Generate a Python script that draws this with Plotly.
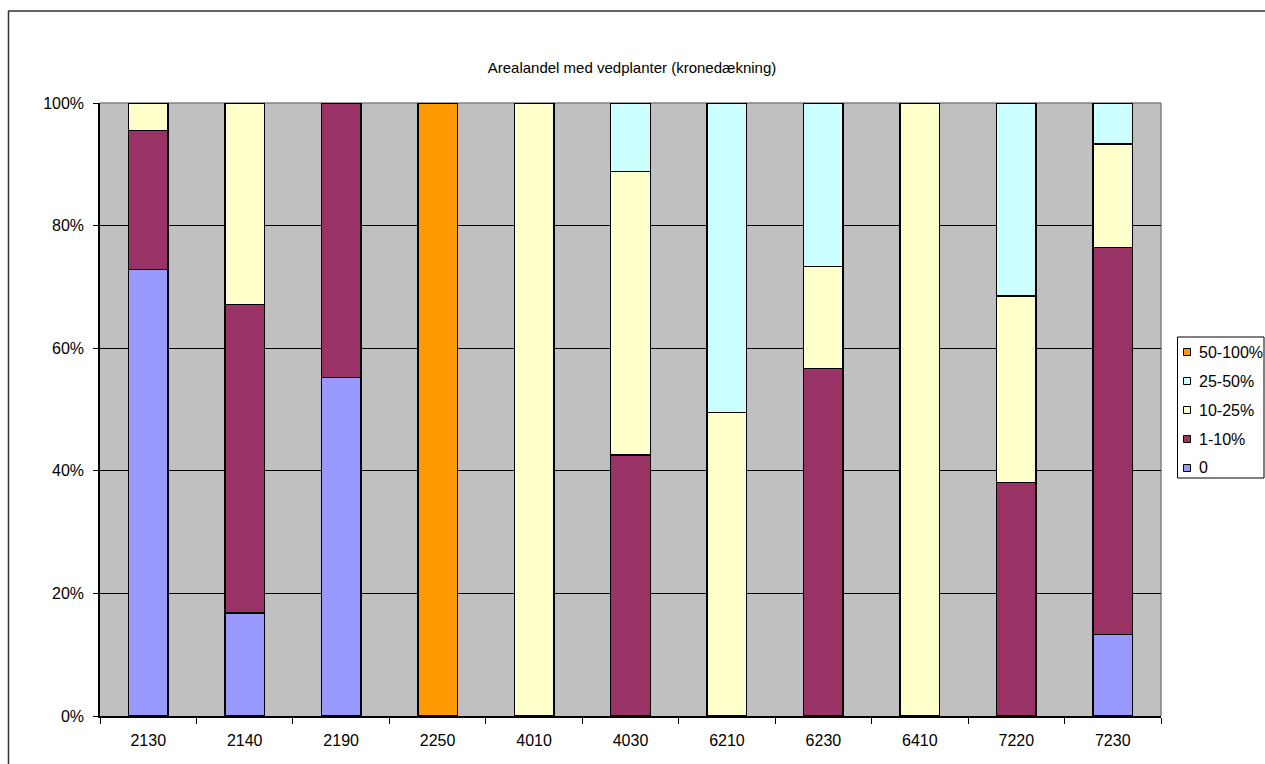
import plotly.graph_objects as go

# Habitat type codes on the x axis
categories = ["2130", "2140", "2190", "2250", "4010", "4030",
              "6210", "6230", "6410", "7220", "7230"]

# Share of area (%) per crown-cover class, stacked bottom to top
cover_0 = [72.8, 16.8, 55.2, 0, 0, 0, 0, 0, 0, 0, 13.3]
cover_1_10 = [22.7, 50.3, 44.8, 0, 0, 42.6, 0, 56.7, 0, 38.1, 63.1]
cover_10_25 = [4.5, 32.9, 0, 0, 100, 46.2, 49.5, 16.6, 100, 30.4, 16.9]
cover_25_50 = [0, 0, 0, 0, 0, 11.2, 50.5, 26.7, 0, 31.5, 6.7]
cover_50_100 = [0, 0, 0, 100, 0, 0, 0, 0, 0, 0, 0]

series_names = ["0", "1-10%", "10-25%", "25-50%", "50-100%"]
series_values = [cover_0, cover_1_10, cover_10_25, cover_25_50, cover_50_100]
series_colors = ["#9999FF", "#993366", "#FFFFCC", "#CCFFFF", "#FF9900"]

y_ticks = [0, 20, 40, 60, 80, 100]

TITLE = "Arealandel med vedplanter (kronedækning)"
FONT = "Liberation Sans, Arial, sans-serif"

W, H = 1265, 764
ML, MR, MT, MB = 100, 104, 103, 48
PW, PH = W - ML - MR, H - MT - MB


def px_x(x):
    return (x - ML) / PW


def px_y(y):
    return (H - MB - y) / PH


fig = go.Figure()
for name, vals, color in zip(series_names, series_values, series_colors):
    fig.add_trace(go.Bar(
        x=categories,
        y=[v if v else None for v in vals],
        name=name,
        marker=dict(color=color, line=dict(color="#000000", width=1.5)),
        showlegend=False,
    ))

shapes = [
    # outer chart frame
    dict(type="rect", xref="paper", yref="paper",
         x0=px_x(8.5), x1=px_x(W + 20), y0=px_y(H + 20), y1=px_y(11),
         line=dict(color="#333333", width=1.5), fillcolor="rgba(0,0,0,0)",
         layer="above"),
    # plot area border (top and right)
    dict(type="line", xref="x domain", yref="y domain", x0=0, x1=1, y0=1, y1=1,
         line=dict(color="#808080", width=1.5), layer="below"),
    dict(type="line", xref="x domain", yref="y domain", x0=1, x1=1, y0=0, y1=1,
         line=dict(color="#808080", width=1.5), layer="below"),
    # legend box
    dict(type="rect", xref="paper", yref="paper",
         x0=px_x(1177.5), x1=px_x(1264), y0=px_y(478), y1=px_y(337),
         line=dict(color="#000000", width=1), fillcolor="#FFFFFF"),
]

annotations = []
legend_order = list(zip(series_names, series_colors))[::-1]
for i, (name, color) in enumerate(legend_order):
    yc = 352 + 29 * i
    shapes.append(dict(
        type="rect", xref="paper", yref="paper",
        x0=px_x(1183.5), x1=px_x(1190.5), y0=px_y(yc + 3.5), y1=px_y(yc - 3.5),
        fillcolor=color, line=dict(color="#000000", width=1)))
    annotations.append(dict(
        text=name, xref="paper", yref="paper", x=px_x(1197), y=px_y(yc),
        xanchor="left", yanchor="middle", showarrow=False,
        font=dict(family=FONT, size=16, color="#000000")))

fig.update_layout(
    width=W, height=H,
    margin=dict(l=ML, r=MR, t=MT, b=MB, pad=0),
    barmode="stack",
    bargap=0.59,
    paper_bgcolor="#FFFFFF",
    plot_bgcolor="#C0C0C0",
    font=dict(family=FONT, size=16, color="#000000"),
    title=dict(text=TITLE, x=632 / W, xanchor="center",
               y=1 - 68 / H, yanchor="middle", yref="container",
               font=dict(family=FONT, size=15, color="#000000")),
    showlegend=False,
    shapes=shapes,
    annotations=annotations,
    xaxis=dict(
        type="category",
        categoryorder="array", categoryarray=categories,
        showline=True, linecolor="#000000", linewidth=1.5,
        ticks="outside", tickson="boundaries", ticklen=6,
        tickcolor="#000000", tickwidth=1,
        showgrid=False, zeroline=False,
        ticklabelstandoff=9,
        tickfont=dict(family=FONT, size=16, color="#000000"),
    ),
    yaxis=dict(
        range=[0, 100],
        tickvals=y_ticks, ticktext=[f"{t}%" for t in y_ticks],
        showline=True, linecolor="#000000", linewidth=1.5,
        ticks="outside", ticklen=5, tickcolor="#000000", tickwidth=1,
        showgrid=True, gridcolor="#000000", gridwidth=1,
        zeroline=False,
        ticklabelstandoff=6,
        tickfont=dict(family=FONT, size=16, color="#000000"),
    ),
)

fig.write_html("out.html")
